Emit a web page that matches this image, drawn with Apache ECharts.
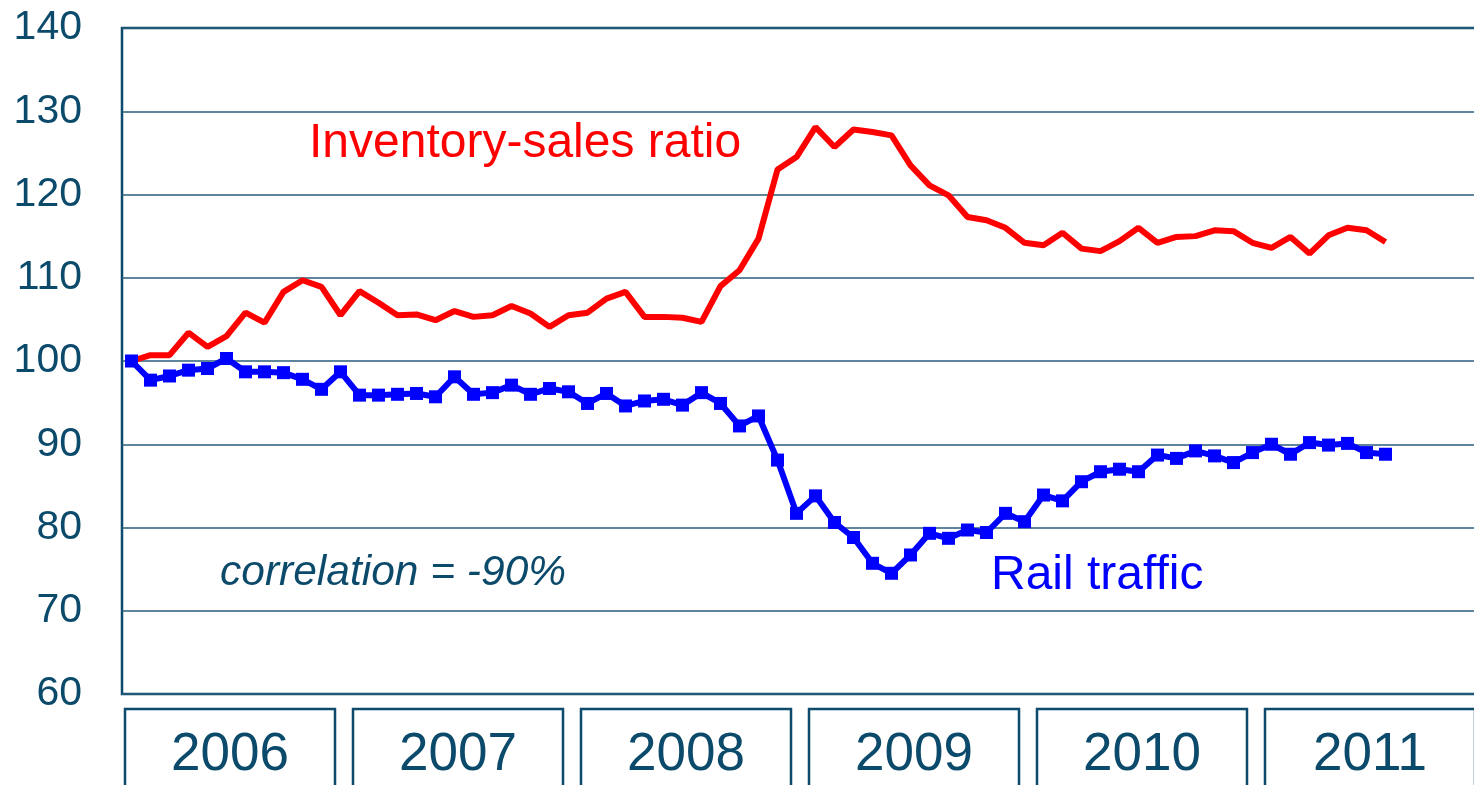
<!DOCTYPE html>
<html>
<head>
<meta charset="utf-8">
<script src="https://cdn.jsdelivr.net/npm/echarts@6/dist/echarts.min.js"></script>
<style>
    html, body { margin: 0; padding: 0; background: #fff; }
    #chart { width: 1474px; height: 785px; }
</style>
</head>
<body>
<div id="chart"></div>
<script>
    // monthly, Jan 2006 .. Jul 2011 (index, Jan 2006 = 100)
    let years = ['2006', '2007', '2008', '2009', '2010', '2011'];
    let inventorySales = [
        100.0, 100.7, 100.7, 103.4, 101.7, 103.0, 105.8, 104.6, 108.3, 109.7, 108.9, 105.5,
        108.4, 107.0, 105.5, 105.6, 104.9, 106.0, 105.3, 105.5, 106.6, 105.7, 104.1, 105.5,
        105.8, 107.5, 108.3, 105.3, 105.3, 105.2, 104.7, 109.0, 110.9, 114.7, 123.0, 124.5,
        128.1, 125.7, 127.8, 127.5, 127.1, 123.5, 121.1, 119.9, 117.3, 116.9, 116.0, 114.2,
        113.9, 115.4, 113.5, 113.2, 114.4, 116.0, 114.2, 114.9, 115.0, 115.7, 115.6, 114.2,
        113.6, 114.9, 112.9, 115.1, 116.0, 115.7, 114.3
    ];
    let railTraffic = [
        100.0, 97.7, 98.2, 98.9, 99.1, 100.3, 98.7, 98.7, 98.6, 97.8, 96.6, 98.7,
        95.9, 95.9, 96.0, 96.1, 95.7, 98.1, 96.0, 96.2, 97.1, 96.0, 96.7, 96.3,
        94.9, 96.1, 94.6, 95.2, 95.4, 94.7, 96.2, 94.9, 92.2, 93.4, 88.1, 81.7,
        83.8, 80.6, 78.8, 75.7, 74.5, 76.7, 79.3, 78.7, 79.7, 79.4, 81.7, 80.7,
        83.9, 83.2, 85.5, 86.7, 87.0, 86.7, 88.7, 88.3, 89.2, 88.6, 87.8, 89.0,
        90.0, 88.8, 90.2, 89.9, 90.1, 89.0, 88.8
    ];

    let months = [];
    years.forEach(function (y) {
        for (let m = 1; m <= 12; m++) months.push(y + '-' + m);
    });

    let navy = '#0B4A6A';
    let font = '"Liberation Sans", Arial, sans-serif';

    let myChart = echarts.init(document.getElementById('chart'));
    let option = {
        animation: false,
        backgroundColor: '#fff',
        grid: [
            {
                left: 122, right: -16, top: 28, bottom: 91,
                outerBoundsMode: 'none', containLabel: false,
                show: true, borderColor: navy, borderWidth: 2.5
            },
            {
                // year boxes sit a few px left of the month grid
                left: 116, right: -10, top: 28, bottom: 91,
                outerBoundsMode: 'none', containLabel: false
            }
        ],
        xAxis: [
            {
                type: 'category',
                gridIndex: 0,
                data: months,
                boundaryGap: true,
                axisLine: {show: false},
                axisTick: {show: false},
                axisLabel: {show: false}
            },
            {
                type: 'category',
                gridIndex: 1,
                data: years,
                axisLine: {show: false},
                axisTick: {show: false},
                axisLabel: {
                    interval: 0,
                    margin: 15,
                    color: navy,
                    fontFamily: font,
                    fontSize: 53,
                    width: 210,
                    height: 92,
                    lineHeight: 92,
                    align: 'center',
                    borderColor: navy,
                    borderWidth: 2.5
                }
            }
        ],
        yAxis: [
            {
                type: 'value',
                gridIndex: 0,
                min: 60,
                max: 140,
                interval: 10,
                axisLine: {show: false},
                axisTick: {show: false},
                axisLabel: {color: navy, fontFamily: font, fontSize: 41, margin: 40},
                splitLine: {lineStyle: {color: '#2A5C7C', width: 1.5}}
            },
            {
                type: 'value',
                gridIndex: 1,
                show: false
            }
        ],
        series: [
            {
                name: 'Rail traffic',
                type: 'line',
                data: railTraffic,
                symbol: 'rect',
                symbolSize: 13,
                showSymbol: true,
                showAllSymbol: true,
                itemStyle: {color: '#0000FF'},
                lineStyle: {color: '#0000FF', width: 6}
            },
            {
                name: 'Inventory-sales ratio',
                type: 'line',
                data: inventorySales,
                showSymbol: false,
                symbol: 'none',
                lineStyle: {color: '#FF0000', width: 6}
            }
        ],
        graphic: [
            {
                type: 'text', left: 309, top: 120,
                style: {text: 'Inventory-sales ratio', fill: '#FF0000', font: '48px ' + font}
            },
            {
                type: 'text', left: 991, top: 552,
                style: {text: 'Rail traffic', fill: '#0000FF', font: '48px ' + font}
            },
            {
                type: 'text', left: 220, top: 552,
                style: {text: 'correlation = -90%', fill: navy, font: 'italic 42.5px ' + font}
            }
        ]
    };
    myChart.setOption(option);
</script>
</body>
</html>
